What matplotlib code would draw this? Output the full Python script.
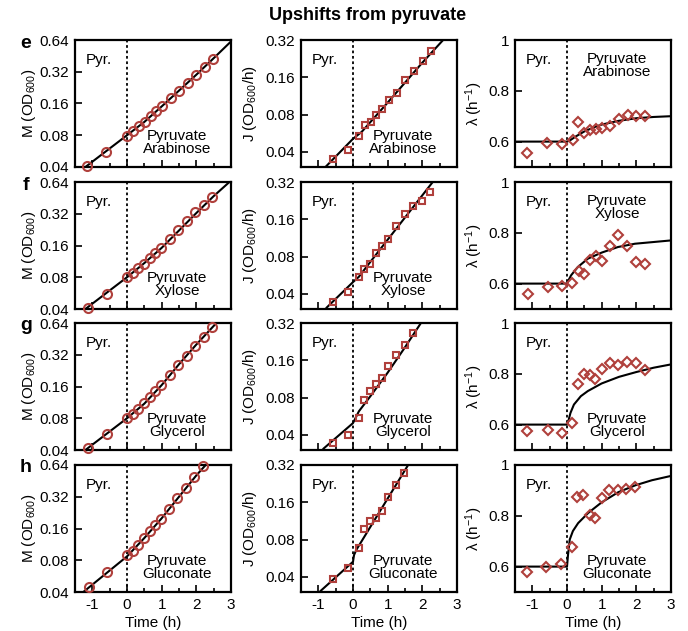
import matplotlib
matplotlib.use("Agg")
import matplotlib.pyplot as plt
from matplotlib.ticker import FixedLocator, NullLocator

plt.rcParams['font.family'] = ['Liberation Sans', 'DejaVu Sans']
plt.rcParams['mathtext.fontset'] = 'custom'
plt.rcParams['mathtext.rm'] = 'Liberation Sans'
plt.rcParams['mathtext.it'] = 'Liberation Sans:italic'
plt.rcParams['mathtext.default'] = 'regular'

# ---------------- data ----------------
row_letters = ['e', 'f', 'g', 'h']
conditions = ['Pyruvate\nArabinose', 'Pyruvate\nXylose', 'Pyruvate\nGlycerol', 'Pyruvate\nGluconate']

# mass M (OD600), data points
M_e_t = [-1.14, -0.60, 0.0, 0.175, 0.34, 0.51, 0.68, 0.83, 1.02, 1.26, 1.50, 1.75, 1.99, 2.24, 2.49]
M_e = [0.041, 0.056, 0.079, 0.088, 0.098, 0.108, 0.121, 0.135, 0.150, 0.180, 0.210, 0.250, 0.301, 0.355, 0.427]
M_f_t = [-1.12, -0.59, 0.0, 0.18, 0.33, 0.49, 0.66, 0.82, 0.99, 1.23, 1.48, 1.73, 1.97, 2.21, 2.45]
M_f = [0.0409, 0.0556, 0.0796, 0.0876, 0.0978, 0.108, 0.122, 0.137, 0.153, 0.183, 0.224, 0.273, 0.330, 0.389, 0.46]
M_g_t = [-1.12, -0.59, 0.0, 0.18, 0.33, 0.49, 0.66, 0.82, 0.99, 1.23, 1.48, 1.73, 1.97, 2.21, 2.45]
M_g = [0.0415, 0.0565, 0.0803, 0.0876, 0.0986, 0.111, 0.127, 0.146, 0.167, 0.205, 0.254, 0.314, 0.391, 0.476, 0.59]
M_h_t = [-1.11, -0.59, 0.0, 0.17, 0.32, 0.48, 0.65, 0.80, 0.97, 1.22, 1.45, 1.70, 1.94, 2.20]
M_h = [0.0447, 0.0614, 0.0888, 0.0986, 0.1125, 0.130, 0.150, 0.172, 0.196, 0.245, 0.310, 0.388, 0.494, 0.62]

# mass model curves
Mfit_e_t = [-1.5, -1.2, 0.0, 0.5, 1.0, 1.5, 2.0, 2.5, 3.0]
Mfit_e = [0.0335, 0.040, 0.080, 0.107, 0.150, 0.212, 0.300, 0.43, 0.62]
Mfit_f_t = [-1.5, -1.2, 0.0, 0.5, 1.0, 1.5, 2.0, 2.5, 3.0]
Mfit_f = [0.0335, 0.040, 0.080, 0.109, 0.152, 0.222, 0.325, 0.47, 0.66]
Mfit_g_t = [-1.5, -1.2, 0.0, 0.5, 1.0, 1.5, 2.0, 2.5, 2.6]
Mfit_g = [0.0335, 0.040, 0.080, 0.110, 0.165, 0.26, 0.40, 0.60, 0.65]
Mfit_h_t = [-1.5, -1.26, 0.0, 0.5, 1.0, 1.5, 2.0, 2.27]
Mfit_h = [0.0352, 0.040, 0.087, 0.130, 0.20, 0.32, 0.51, 0.64]

# flux J (OD600/h), data points
J_e_t = [-0.58, -0.15, 0.17, 0.34, 0.51, 0.67, 0.84, 1.03, 1.26, 1.51, 1.76, 2.01, 2.25]
J_e = [0.035, 0.0414, 0.0542, 0.0665, 0.0697, 0.079, 0.088, 0.104, 0.120, 0.151, 0.181, 0.216, 0.260]
J_f_t = [-0.58, -0.15, 0.17, 0.33, 0.50, 0.66, 0.83, 1.01, 1.24, 1.50, 1.74, 1.98, 2.23]
J_f = [0.0344, 0.0413, 0.055, 0.0639, 0.0697, 0.0852, 0.0977, 0.110, 0.140, 0.178, 0.204, 0.223, 0.264]
J_g_t = [-0.58, -0.15, 0.17, 0.33, 0.50, 0.66, 0.83, 1.01, 1.24, 1.50, 1.74]
J_g = [0.0342, 0.040, 0.0547, 0.076, 0.0912, 0.103, 0.116, 0.144, 0.176, 0.213, 0.268]
J_h_t = [-0.57, -0.15, 0.16, 0.33, 0.48, 0.67, 0.83, 1.00, 1.23, 1.47]
J_h = [0.0388, 0.0468, 0.068, 0.0977, 0.114, 0.119, 0.135, 0.177, 0.22, 0.275]

# flux model curves
Jfit_e_t = [-0.82, 0.0, 0.25, 1.0, 2.0, 2.6]
Jfit_e = [0.0297, 0.051, 0.058, 0.100, 0.21, 0.32]
Jfit_f_t = [-0.76, 0.0, 0.17, 0.5, 2.30]
Jfit_f = [0.031, 0.0498, 0.055, 0.0725, 0.32]
Jfit_g_t = [-0.85, 0.0, 0.17, 0.5, 0.99, 1.48, 1.96]
Jfit_g = [0.031, 0.0498, 0.062, 0.082, 0.126, 0.20, 0.32]
Jfit_h_t = [-0.93, 0.0, 0.03, 0.095, 1.59]
Jfit_h = [0.0309, 0.053, 0.060, 0.066, 0.32]

# growth rate lambda (1/h), data points
L_e_t = [-1.14, -0.58, -0.15, 0.16, 0.33, 0.50, 0.67, 0.84, 1.02, 1.25, 1.50, 1.75, 2.00, 2.25]
L_e = [0.556, 0.596, 0.589, 0.605, 0.676, 0.632, 0.645, 0.648, 0.652, 0.660, 0.689, 0.703, 0.699, 0.701]
L_f_t = [-1.12, -0.56, -0.15, 0.15, 0.34, 0.50, 0.66, 0.83, 1.02, 1.24, 1.48, 1.72, 1.98, 2.25]
L_f = [0.559, 0.587, 0.590, 0.604, 0.648, 0.637, 0.692, 0.709, 0.688, 0.748, 0.792, 0.750, 0.685, 0.677]
L_g_t = [-1.14, -0.56, -0.15, 0.15, 0.33, 0.49, 0.66, 0.82, 1.02, 1.24, 1.48, 1.72, 1.98, 2.25]
L_g = [0.574, 0.578, 0.567, 0.608, 0.758, 0.800, 0.795, 0.779, 0.817, 0.842, 0.833, 0.846, 0.843, 0.813]
L_h_t = [-1.16, -0.60, -0.16, 0.15, 0.30, 0.46, 0.65, 0.80, 1.00, 1.21, 1.46, 1.70, 1.95]
L_h = [0.577, 0.600, 0.609, 0.677, 0.873, 0.880, 0.803, 0.792, 0.871, 0.903, 0.900, 0.904, 0.912]

# growth-rate model curves
Lfit_e_t = [-1.5, 0.0, 0.1, 0.25, 0.5, 0.75, 1.0, 1.5, 2.0, 2.5, 3.0]
Lfit_e = [0.6, 0.6, 0.606, 0.620, 0.640, 0.655, 0.667, 0.682, 0.692, 0.697, 0.700]
Lfit_f_t = [-1.5, 0.0, 0.05, 0.12, 0.31, 0.6, 1.0, 1.47, 1.96, 2.44, 3.0]
Lfit_f = [0.6, 0.6, 0.615, 0.633, 0.665, 0.698, 0.722, 0.744, 0.757, 0.763, 0.770]
Lfit_g_t = [-1.5, 0.0, 0.03, 0.06, 0.1, 0.2, 0.4, 0.6, 1.0, 1.5, 2.0, 2.5, 3.0]
Lfit_g = [0.6, 0.6, 0.61, 0.625, 0.646, 0.679, 0.712, 0.732, 0.762, 0.788, 0.807, 0.824, 0.837]
Lfit_h_t = [-1.5, 0.0, 0.03, 0.08, 0.17, 0.32, 0.61, 1.0, 1.48, 1.97, 2.45, 3.0]
Lfit_h = [0.6, 0.6, 0.647, 0.707, 0.740, 0.771, 0.811, 0.853, 0.893, 0.920, 0.940, 0.957]

M_data = [(M_e_t, M_e), (M_f_t, M_f), (M_g_t, M_g), (M_h_t, M_h)]
M_fit = [(Mfit_e_t, Mfit_e), (Mfit_f_t, Mfit_f), (Mfit_g_t, Mfit_g), (Mfit_h_t, Mfit_h)]
J_data = [(J_e_t, J_e), (J_f_t, J_f), (J_g_t, J_g), (J_h_t, J_h)]
J_fit = [(Jfit_e_t, Jfit_e), (Jfit_f_t, Jfit_f), (Jfit_g_t, Jfit_g), (Jfit_h_t, Jfit_h)]
L_data = [(L_e_t, L_e), (L_f_t, L_f), (L_g_t, L_g), (L_h_t, L_h)]
L_fit = [(Lfit_e_t, Lfit_e), (Lfit_f_t, Lfit_f), (Lfit_g_t, Lfit_g), (Lfit_h_t, Lfit_h)]

x_ticks = [-1, 0, 1, 2, 3]
x_tick_labels = ['-1', '0', '1', '2', '3']
x_minor = [-0.5, 0.5, 1.5, 2.5]
M_ticks = [0.04, 0.08, 0.16, 0.32, 0.64]
M_tick_labels = ['0.04', '0.08', '0.16', '0.32', '0.64']
J_ticks = [0.04, 0.08, 0.16, 0.32]
J_tick_labels = ['0.04', '0.08', '0.16', '0.32']
L_ticks = [0.6, 0.8, 1.0]
L_tick_labels = ['0.6', '0.8', '1']

# ---------------- style ----------------
W, H = 688, 631
RED = '#b0403c'
FS = 11
fig = plt.figure(figsize=(W / 100, H / 100), dpi=100)

col_left = [75, 301, 515]
col_w = 156
row_top = [40, 182, 323, 465]
row_h = 127


def make_ax(r, c):
    left = col_left[c] / W
    bottom = 1 - (row_top[r] + row_h) / H
    ax = fig.add_axes([left, bottom, col_w / W, row_h / H])
    for s in ax.spines.values():
        s.set_linewidth(1.6)
    ax.set_xlim(-1.5, 3)
    ax.xaxis.set_major_locator(FixedLocator(x_ticks))
    ax.xaxis.set_minor_locator(FixedLocator(x_minor))
    ax.tick_params(axis='both', which='major', direction='in', length=5, width=1.2,
                   labelsize=FS, pad=4, top=False, right=False)
    ax.tick_params(axis='both', which='minor', direction='in', length=3, width=1.2,
                   top=False, right=False)
    if r == 3:
        ax.set_xticklabels(x_tick_labels)
        ax.set_xlabel('Time (h)', fontsize=FS, labelpad=3)
    else:
        ax.set_xticklabels([])
    ax.axvline(0, color='black', lw=1.3, linestyle=(0, (1.5, 1.5)), zorder=1)
    return ax


for r in range(4):
    # column 1 : mass
    ax = make_ax(r, 0)
    ax.set_yscale('log', base=2)
    ax.set_ylim(0.04, 0.64)
    ax.yaxis.set_major_locator(FixedLocator(M_ticks))
    ax.yaxis.set_minor_locator(NullLocator())
    ax.set_yticklabels(M_tick_labels)
    ax.plot(*M_fit[r], color='black', lw=1.5, zorder=2)
    ax.plot(*M_data[r], linestyle='none', marker='o', ms=6.5, mfc='none', mec=RED,
            mew=1.5, zorder=3, clip_on=False)
    ax.set_ylabel('M (OD$_{600}$)', fontsize=FS)
    ax.yaxis.set_label_coords(-0.235, 0.5)
    ax.text(-1.2, 0.84, 'Pyr.', transform=ax.get_xaxis_transform(), fontsize=FS,
            ha='left', va='center')
    ax.text(1.45, 0.19, conditions[r], transform=ax.get_xaxis_transform(), fontsize=FS,
            ha='center', va='center', linespacing=0.92)
    fig.text(26 / W, 1 - (row_top[r] + 3) / H, row_letters[r], fontsize=14,
             fontweight='bold', ha='center', va='center')

    # column 2 : flux
    ax = make_ax(r, 1)
    ax.set_yscale('log', base=2)
    ax.set_ylim(0.0302, 0.32)
    ax.yaxis.set_major_locator(FixedLocator(J_ticks))
    ax.yaxis.set_minor_locator(NullLocator())
    ax.set_yticklabels(J_tick_labels)
    ax.plot(*J_fit[r], color='black', lw=1.5, zorder=2)
    ax.plot(*J_data[r], linestyle='none', marker='s', ms=5, mfc='none', mec=RED,
            mew=1.5, zorder=3)
    ax.set_ylabel('J (OD$_{600}$/h)', fontsize=FS)
    ax.yaxis.set_label_coords(-0.27, 0.5)
    ax.text(-1.2, 0.84, 'Pyr.', transform=ax.get_xaxis_transform(), fontsize=FS,
            ha='left', va='center')
    ax.text(1.45, 0.19, conditions[r], transform=ax.get_xaxis_transform(), fontsize=FS,
            ha='center', va='center', linespacing=0.92)

    # column 3 : growth rate
    ax = make_ax(r, 2)
    ax.set_ylim(0.5, 1.0)
    ax.yaxis.set_major_locator(FixedLocator(L_ticks))
    ax.yaxis.set_minor_locator(NullLocator())
    ax.set_yticklabels(L_tick_labels)
    ax.plot(*L_fit[r], color='black', lw=1.5, zorder=2)
    ax.plot(*L_data[r], linestyle='none', marker='D', ms=5.5, mfc='none', mec=RED,
            mew=1.5, zorder=3)
    ax.set_ylabel('λ (h$^{-1}$)', fontsize=FS)
    ax.yaxis.set_label_coords(-0.19, 0.5)
    ax.text(-1.2, 0.84, 'Pyr.', transform=ax.get_xaxis_transform(), fontsize=FS,
            ha='left', va='center')
    ty = 0.8 if r < 2 else 0.19
    ax.text(1.45, ty, conditions[r], transform=ax.get_xaxis_transform(), fontsize=FS,
            ha='center', va='center', linespacing=0.92)

fig.text(368 / W, 1 - 16 / H, 'Upshifts from pyruvate', fontsize=13, fontweight='bold',
         ha='center', va='center')

fig.savefig('out.png', dpi=100)
